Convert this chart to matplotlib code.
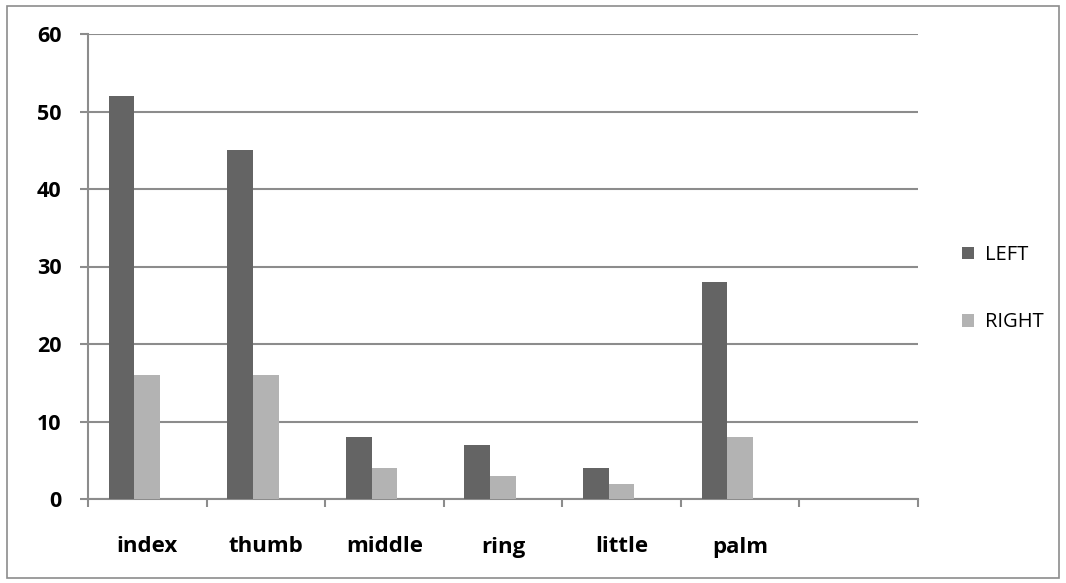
import matplotlib
matplotlib.use("Agg")
import matplotlib.pyplot as plt
from matplotlib.patches import Rectangle
import numpy as np

categories = ["index", "thumb", "middle", "ring", "little", "palm", ""]
left_vals = [52, 45, 8, 7, 4, 28, 0]
right_vals = [16, 16, 4, 3, 2, 8, 0]
yticks = [0, 10, 20, 30, 40, 50, 60]

W, H = 1066, 583
fig = plt.figure(figsize=(W/100, H/100), dpi=100)
fig.patch.set_facecolor("white")
fig.patches.append(Rectangle((7/W, 5/H), 1052/W, 572/H, transform=fig.transFigure,
                             fill=False, edgecolor="#8c8c8c", linewidth=1.2))

ax = fig.add_axes([88/W, 1-499/H, (918-88)/W, (499-34)/H])
x = np.arange(len(categories))
w = 0.2165
ax.bar(x - w, left_vals, width=w, color="#646464", label="LEFT", zorder=3)
ax.bar(x, right_vals, width=w, color="#b3b3b3", label="RIGHT", zorder=3)

ax.set_xlim(-0.5, len(categories) - 0.5)
ax.set_ylim(0, 60)
ax.set_yticks(yticks)
ax.yaxis.grid(True, color="#8c8c8c", linewidth=1.5, zorder=0)
ax.set_axisbelow(True)
for s in ["top", "right"]:
    ax.spines[s].set_visible(False)
for s in ["left", "bottom"]:
    ax.spines[s].set_color("#8c8c8c")
    ax.spines[s].set_linewidth(1.5)

ax.set_xticks(np.arange(len(categories) + 1) - 0.5)
ax.set_xticklabels([])
ax.set_xticks(x, minor=True)
ax.set_xticklabels(categories, minor=True, fontfamily="Open Sans", fontweight="bold", fontsize=16)
ax.tick_params(axis="x", which="major", length=5.5, width=1.5, color="#8c8c8c", direction="out")
ax.tick_params(axis="x", which="minor", length=0, pad=27)
ax.tick_params(axis="y", length=6, width=1.5, color="#8c8c8c", direction="out", pad=13)
for lab in ax.get_yticklabels():
    lab.set_fontfamily("Open Sans")
    lab.set_fontweight("bold")
    lab.set_fontsize(15.5)

leg = fig.legend(loc="upper left", bbox_to_anchor=(944/W, 1-227/H), frameon=False,
                 prop={"family": "Open Sans", "size": 14.5}, handlelength=0.6, handleheight=0.6,
                 handletextpad=0.55, labelspacing=2.35)

fig.savefig("out.png", dpi=100)
